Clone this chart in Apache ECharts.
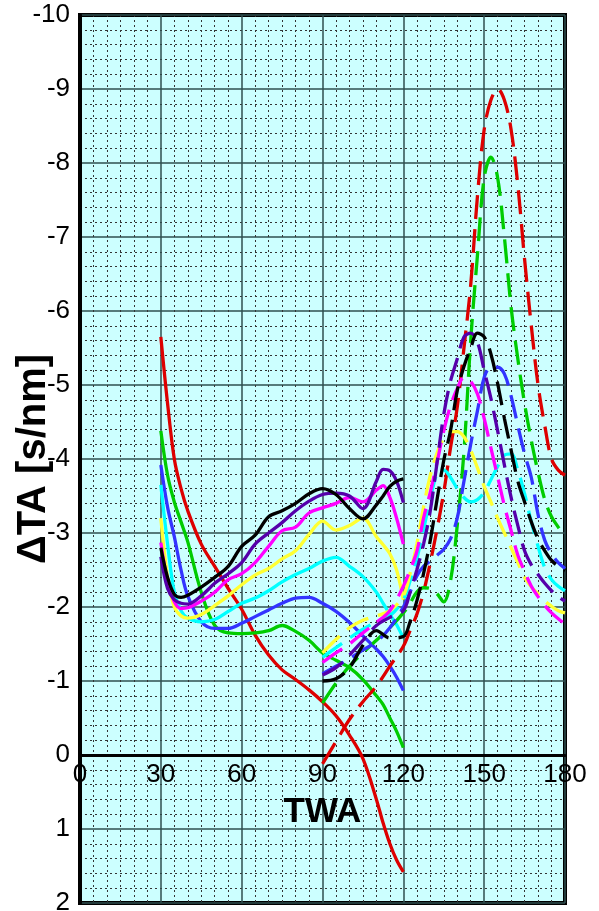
<!DOCTYPE html>
<html>
<head>
<meta charset="utf-8">
<script src="https://cdn.jsdelivr.net/npm/echarts@6/dist/echarts.min.js"></script>
<style>html,body{margin:0;padding:0;background:#fff;}#c{width:599px;height:911px;}</style>
</head>
<body>
<div id="c"></div>
<script>
// TWA sample points for the solid (upwind) and dashed (downwind) curves
var twaSolid = [30,32.5,35,37.5,40,45,50,55,60,65,70,75,80,85,90,95,100,105,110,112.5,115,117.5,120];
var twaDashed = [90,95,100,105,110,115,120,122.5,125,127.5,130,132.5,135,137.5,140,142.5,145,147.5,150,152.5,155,157.5,160,162.5,165,167.5,170,172.5,175,177.5,180];

var xTicks = [0,30,60,90,120,150,180];
var yTicks = [-10,-9,-8,-7,-6,-5,-4,-3,-2,-1,0,1,2];

// solid curves
var redSolid     = [-5.65,-4.75,-4.0,-3.6,-3.3,-2.85,-2.55,-2.25,-1.97,-1.62,-1.35,-1.15,-1.02,-0.88,-0.72,-0.53,-0.27,0.05,0.6,0.92,1.2,1.42,1.58];
var greenSolid   = [-4.38,-3.78,-3.42,-3.15,-2.88,-2.2,-1.75,-1.65,-1.64,-1.65,-1.68,-1.75,-1.67,-1.55,-1.38,-1.28,-1.18,-1.02,-0.8,-0.68,-0.5,-0.32,-0.1];
var blueSolid    = [-3.92,-3.35,-2.95,-2.5,-2.15,-1.8,-1.71,-1.71,-1.78,-1.87,-1.96,-2.05,-2.12,-2.13,-2.05,-1.94,-1.79,-1.61,-1.43,-1.33,-1.2,-1.05,-0.87];
var cyanSolid    = [-3.65,-2.85,-2.2,-1.95,-1.85,-1.8,-1.83,-1.94,-2.05,-2.12,-2.22,-2.34,-2.44,-2.52,-2.62,-2.67,-2.55,-2.41,-2.2,-2.05,-1.9,-1.76,-1.58];
var yellowSolid  = [-3.2,-2.4,-2.0,-1.88,-1.85,-1.9,-2.02,-2.15,-2.3,-2.43,-2.52,-2.65,-2.76,-2.98,-3.16,-3.04,-3.1,-3.2,-2.95,-2.84,-2.72,-2.5,-2.1];
var magentaSolid = [-2.87,-2.35,-2.07,-1.98,-1.99,-2.08,-2.2,-2.37,-2.45,-2.6,-2.82,-3.03,-3.08,-3.27,-3.34,-3.4,-3.48,-3.42,-3.58,-3.64,-3.48,-3.2,-2.85];
var purpleSolid  = [-2.68,-2.25,-2.1,-2.05,-2.04,-2.15,-2.32,-2.45,-2.6,-2.85,-3.0,-3.14,-3.3,-3.43,-3.52,-3.54,-3.5,-3.33,-3.7,-3.86,-3.84,-3.7,-3.41];
var blackSolid   = [-2.8,-2.4,-2.17,-2.13,-2.16,-2.27,-2.4,-2.55,-2.82,-2.97,-3.22,-3.3,-3.4,-3.53,-3.6,-3.52,-3.33,-3.19,-3.38,-3.5,-3.63,-3.7,-3.73];

// dashed curves
var redDashed     = [0.12,-0.18,-0.48,-0.72,-0.93,-1.2,-1.47,-1.68,-1.9,-2.2,-2.6,-3.05,-3.55,-4.15,-4.7,-5.5,-6.35,-7.55,-8.45,-8.85,-9.0,-8.85,-8.45,-7.7,-6.7,-5.8,-5.0,-4.45,-4.0,-3.85,-3.78];
var greenDashed   = [-0.7,-0.97,-1.2,-1.38,-1.55,-1.72,-1.92,-2.05,-2.2,-2.26,-2.25,-2.18,-2.07,-2.35,-3.1,-4.1,-5.6,-6.75,-7.8,-8.08,-7.8,-7.0,-6.05,-5.35,-4.75,-4.25,-3.82,-3.45,-3.22,-3.08,-2.95];
var blueDashed    = [-1.1,-1.2,-1.3,-1.42,-1.53,-1.72,-2.0,-2.2,-2.42,-2.55,-2.62,-2.7,-2.78,-2.92,-3.2,-3.7,-4.2,-4.65,-5.1,-5.24,-5.24,-5.15,-4.85,-4.45,-4.07,-3.75,-3.25,-2.9,-2.72,-2.6,-2.52];
var cyanDashed    = [-1.32,-1.45,-1.58,-1.7,-1.8,-1.88,-2.1,-2.35,-2.65,-3.05,-3.45,-3.8,-3.85,-3.75,-3.6,-3.48,-3.42,-3.45,-3.55,-3.72,-3.9,-4.05,-4.07,-3.85,-3.53,-3.15,-2.82,-2.53,-2.37,-2.28,-2.22];
var yellowDashed  = [-1.38,-1.56,-1.72,-1.82,-1.88,-1.95,-2.15,-2.45,-2.85,-3.35,-3.78,-4.08,-4.28,-4.37,-4.37,-4.3,-4.12,-3.88,-3.63,-3.42,-3.2,-3.0,-2.8,-2.6,-2.4,-2.27,-2.18,-2.08,-2.01,-1.95,-1.92];
var magentaDashed = [-1.25,-1.38,-1.5,-1.65,-1.79,-1.95,-2.28,-2.5,-2.75,-3.2,-3.55,-3.95,-4.38,-4.72,-4.95,-5.1,-5.05,-4.88,-4.55,-4.15,-3.76,-3.37,-3.03,-2.7,-2.48,-2.28,-2.14,-2.02,-1.92,-1.84,-1.77];
var purpleDashed  = [-1.08,-1.18,-1.35,-1.55,-1.75,-1.86,-1.95,-2.2,-2.5,-2.85,-3.3,-3.95,-4.6,-5.05,-5.35,-5.65,-5.7,-5.58,-5.2,-4.82,-4.38,-3.92,-3.48,-3.1,-2.76,-2.57,-2.44,-2.32,-2.22,-2.14,-2.08];
var blackDashed   = [-1.0,-1.03,-1.18,-1.48,-1.68,-1.58,-1.6,-1.8,-2.08,-2.45,-2.9,-3.45,-3.98,-4.38,-4.92,-5.25,-5.5,-5.7,-5.65,-5.42,-5.02,-4.55,-4.12,-3.7,-3.42,-3.15,-2.92,-2.76,-2.63,-2.55,-2.49];

var colors = {red:'#dd0000', green:'#00cc00', blue:'#3333ff', cyan:'#00ffff', yellow:'#ffff33', magenta:'#ff00ff', purple:'#5500aa', black:'#000000'};

function pts(xs, ys){ return xs.map(function(x,i){ return [x, ys[i]]; }); }
function mk(name, xs, ys, color, dashed){
  return {
    name: name, type:'line', data: pts(xs, ys), smooth: 0.35, showSymbol:false, symbol:'none',
    lineStyle:{color:color, width:3.3, type: dashed ? [24,10] : 'solid', cap:'butt'},
    itemStyle:{color:color}, z: 3
  };
}

var series = [
  mk('red', twaSolid, redSolid, colors.red, false),
  mk('green', twaSolid, greenSolid, colors.green, false),
  mk('blue', twaSolid, blueSolid, colors.blue, false),
  mk('cyan', twaSolid, cyanSolid, colors.cyan, false),
  mk('yellow', twaSolid, yellowSolid, colors.yellow, false),
  mk('magenta', twaSolid, magentaSolid, colors.magenta, false),
  mk('purple', twaSolid, purpleSolid, colors.purple, false),
  mk('black', twaSolid, blackSolid, colors.black, false),
  mk('red-d', twaDashed, redDashed, colors.red, true),
  mk('green-d', twaDashed, greenDashed, colors.green, true),
  mk('blue-d', twaDashed, blueDashed, colors.blue, true),
  mk('cyan-d', twaDashed, cyanDashed, colors.cyan, true),
  mk('yellow-d', twaDashed, yellowDashed, colors.yellow, true),
  mk('magenta-d', twaDashed, magentaDashed, colors.magenta, true),
  mk('purple-d', twaDashed, purpleDashed, colors.purple, true),
  mk('black-d', twaDashed, blackDashed, colors.black, true)
];

var gridTop = 15, gridBottom = 8, H = 911;
var plotH = H - gridTop - gridBottom;
// x axis sits at value 0: 2 of 12 units above the bottom edge
var xOffset = -plotH * 2 / 12;

var font = 'Arial, "Liberation Sans", sans-serif';
var chart = echarts.init(document.getElementById('c'), null, {renderer:'canvas'});
chart.setOption({
  animation:false,
  backgroundColor:'#ffffff',
  grid:{left:80, right:34, top:gridTop, bottom:gridBottom, show:true, backgroundColor:'#ccffff', borderColor:'#000', borderWidth:4, containLabel:false, outerBoundsMode:'none'},
  xAxis:{
    type:'value', min:xTicks[0], max:xTicks[xTicks.length-1], interval:30,
    position:'bottom', offset:xOffset,
    name:'TWA', nameLocation:'middle', nameGap:40, nameMoveOverlap:false,
    nameTextStyle:{fontFamily:font, fontSize:35, fontWeight:'bold', color:'#000'},
    axisLine:{show:true, onZero:false, lineStyle:{color:'#000', width:3}},
    axisTick:{show:false},
    axisLabel:{fontFamily:font, fontSize:26, color:'#000', margin:7, showMinLabel:true, showMaxLabel:true},
    splitLine:{show:true, lineStyle:{color:'#2f4f4f', width:1.5}},
    minorTick:{show:false, splitNumber:6},
    minorSplitLine:{show:true, lineStyle:{color:'#333', width:1, type:[2,3]}}
  },
  yAxis:{
    type:'value', min:yTicks[0], max:yTicks[yTicks.length-1], interval:1, inverse:true,
    name:'ΔTA [s/nm]', nameLocation:'middle', nameGap:26, nameRotate:90, nameMoveOverlap:false,
    nameTextStyle:{fontFamily:font, fontSize:40, fontWeight:'bold', color:'#000'},
    axisLine:{show:true, lineStyle:{color:'#000', width:4}},
    axisTick:{show:false},
    axisLabel:{fontFamily:font, fontSize:26, color:'#000', margin:10, showMinLabel:true, showMaxLabel:true},
    splitLine:{show:true, lineStyle:{color:'#2f4f4f', width:1.5}},
    minorTick:{show:false, splitNumber:5},
    minorSplitLine:{show:true, lineStyle:{color:'#333', width:1, type:[2,3]}}
  },
  series: series
});
</script>
</body>
</html>
